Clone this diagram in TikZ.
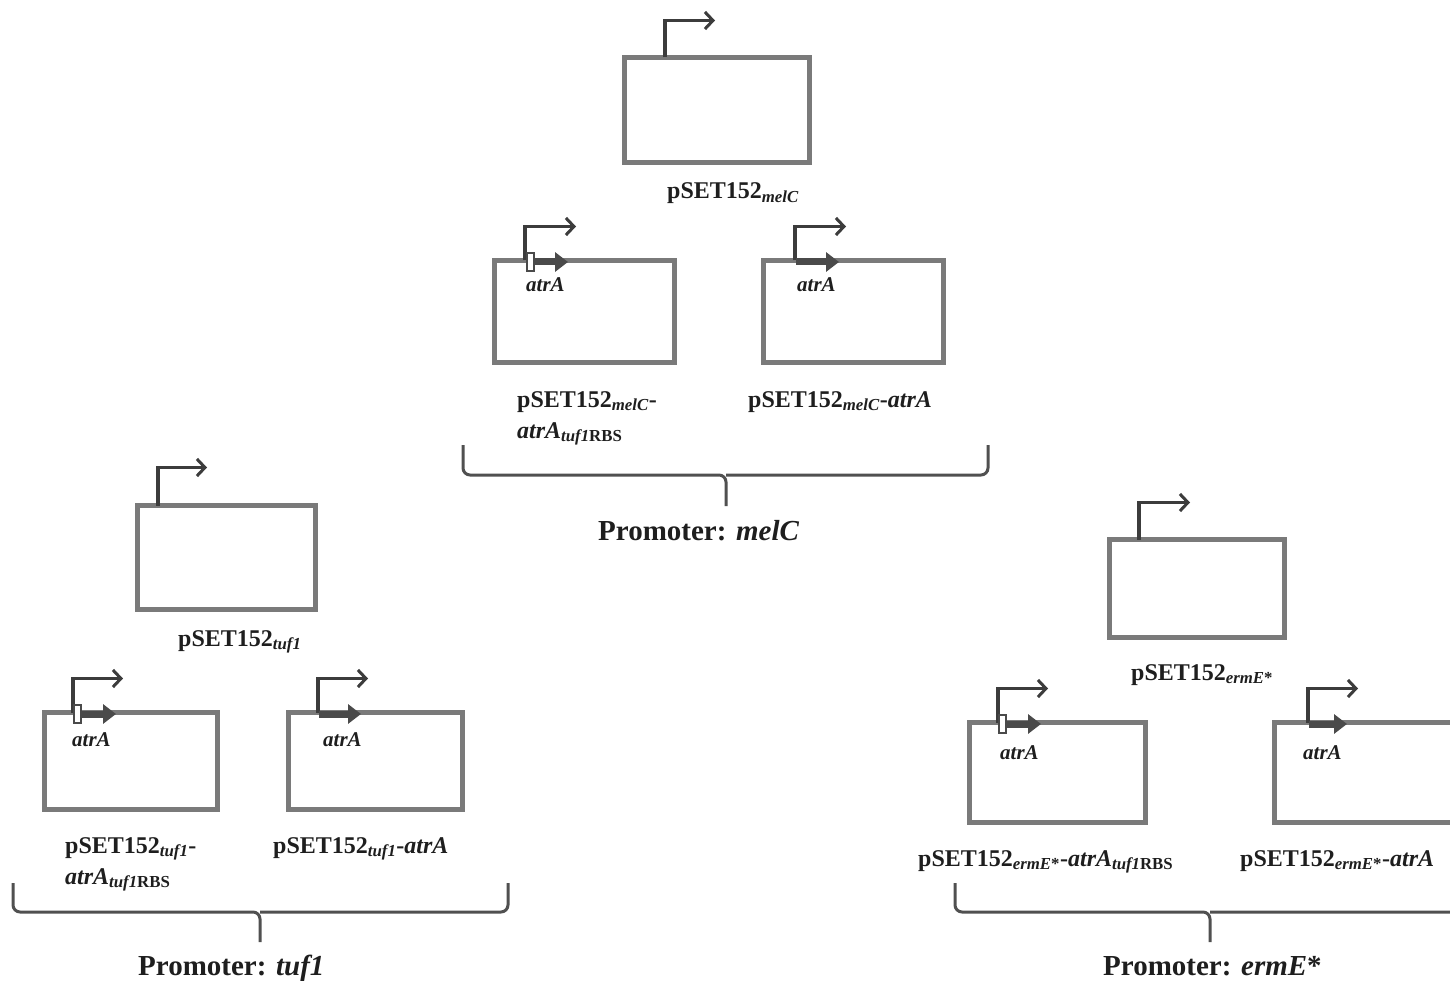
\documentclass[tikz,border=0pt]{standalone}
\usepackage{fontspec}
\setmainfont{Liberation Serif}
\usetikzlibrary{arrows.meta}
\definecolor{boxgray}{HTML}{7A7A7A}
\definecolor{promgray}{HTML}{3C3C3C}
\definecolor{genegray}{HTML}{4A4A4A}
\definecolor{bracegray}{HTML}{505050}
\definecolor{txt}{HTML}{1E1E1E}
\tikzset{
  plasmid/.style={draw=boxgray, line width=5pt, inner sep=0pt, outer sep=0pt, anchor=north west},
  prom/.style={draw=promgray, line width=3.2pt, line join=miter,
    -{Straight Barb[length=8pt,width=17pt,line width=3pt]}},
  gene/.style={draw=genegray, line width=7pt, -{Triangle[length=13pt,width=19pt]}},
  rbs/.style={draw=genegray, fill=white, line width=1.4pt, minimum width=7pt,
    minimum height=18pt, inner sep=0pt, outer sep=0pt},
  lbl/.style={text=txt, font=\fontsize{24}{30}\selectfont\bfseries, inner sep=0pt, anchor=base west},
  glbl/.style={text=txt, font=\fontsize{21}{24}\selectfont\bfseries\itshape, inner sep=0pt, anchor=base west},
  promlbl/.style={text=txt, font=\fontsize{29}{34}\selectfont\bfseries, inner sep=0pt, anchor=base west},
  bracepath/.style={draw=bracegray, line width=3pt, rounded corners=7pt}
}
\newcommand{\sbs}[1]{\textsubscript{#1}}
\begin{document}
\begin{tikzpicture}[x=1pt,y=-1pt]
\useasboundingbox (0,0) rectangle (1450,981);
\clip (0,0) rectangle (1450,981);
\fill[white] (0,0) rectangle (1450,981);

% ---------- melC group ----------
\node[plasmid, minimum width=185pt, minimum height=105pt] (m0) at (624.5,57.5) {};
\draw[prom] ([xshift=40.5pt]m0.north west) -- ++(0,-37) -- ++(50,0);
\node[lbl] (m0l) at (667,199) {pSET152\sbs{\textit{melC}}};

\node[plasmid, minimum width=180pt, minimum height=102pt] (m1) at (494.5,260.5) {};
\draw[prom] ([xshift=30.5pt]m1.north west) -- ++(0,-34) -- ++(51,0);
\coordinate (m1g) at (568,262);
\node[rbs] (m1r) at (530.5,262) {};
\draw[gene] (m1r.east) -- (m1g);
\node[rbs] at (530.5,262) {};
\node[glbl] (m1a) at (526,292) {atrA};

\node[plasmid, minimum width=180pt, minimum height=102pt] (m2) at (763.5,260.5) {};
\draw[prom] ([xshift=31.5pt]m2.north west) -- ++(0,-34) -- ++(51,0);
\coordinate (m2s) at (796,262);
\coordinate (m2g) at (839,262);
\draw[gene] (m2s) -- (m2g);
\node[glbl] (m2a) at (797,292) {atrA};

\node[lbl] (m1l) at (517,407) {pSET152\sbs{\textit{melC}}-};
\node[lbl] (m1l2) at (517,438) {\textit{atrA}\sbs{\textit{tuf1}RBS}};
\node[lbl] (m2l) at (748,407) {pSET152\sbs{\textit{melC}}-\textit{atrA}};

\draw[bracepath] (463,445) -- (463,475) -- (726,475) -- (726,506);
\draw[bracepath] (988,445) -- (988,475) -- (726,475);
\node[promlbl] (mp) at (598,540) {Promoter: \textit{melC}};

% ---------- tuf1 group ----------
\node[plasmid, minimum width=178pt, minimum height=104pt] (t0) at (137.5,505.5) {};
\draw[prom] ([xshift=20.5pt]t0.north west) -- ++(0,-38) -- ++(49,0);
\node[lbl] (t0l) at (178,646) {pSET152\sbs{\textit{tuf1}}};

\node[plasmid, minimum width=173pt, minimum height=97pt] (t1) at (44.5,712.5) {};
\draw[prom] ([xshift=28.5pt]t1.north west) -- ++(0,-34) -- ++(50,0);
\coordinate (t1g) at (116,714);
\node[rbs] (t1r) at (77.5,714) {};
\draw[gene] (t1r.east) -- (t1g);
\node[rbs] at (77.5,714) {};
\node[glbl] (t1a) at (72,746) {atrA};

\node[plasmid, minimum width=174pt, minimum height=97pt] (t2) at (288.5,712.5) {};
\draw[prom] ([xshift=29.5pt]t2.north west) -- ++(0,-34) -- ++(50,0);
\coordinate (t2s) at (319,714);
\coordinate (t2g) at (361,714);
\draw[gene] (t2s) -- (t2g);
\node[glbl] (t2a) at (323,746) {atrA};

\node[lbl] (t1l) at (65,853) {pSET152\sbs{\textit{tuf1}}-};
\node[lbl] (t1l2) at (65,884) {\textit{atrA}\sbs{\textit{tuf1}RBS}};
\node[lbl] (t2l) at (273,853) {pSET152\sbs{\textit{tuf1}}-\textit{atrA}};

\draw[bracepath] (13,883) -- (13,912) -- (260,912) -- (260,942);
\draw[bracepath] (508,883) -- (508,912) -- (260,912);
\node[promlbl] (tp) at (138,975) {Promoter: \textit{tuf1}};

% ---------- ermE* group ----------
\node[plasmid, minimum width=175pt, minimum height=98pt] (e0) at (1109.5,539.5) {};
\draw[prom] ([xshift=29.5pt]e0.north west) -- ++(0,-37) -- ++(51,0);
\node[lbl] (e0l) at (1131,680) {pSET152\sbs{\textit{ermE}*}};

\node[plasmid, minimum width=176pt, minimum height=100pt] (e1) at (969.5,722.5) {};
\draw[prom] ([xshift=28.5pt]e1.north west) -- ++(0,-34) -- ++(50,0);
\coordinate (e1g) at (1041,724);
\node[rbs] (e1r) at (1002.5,724) {};
\draw[gene] (e1r.east) -- (e1g);
\node[rbs] at (1002.5,724) {};
\node[glbl] (e1a) at (1000,759) {atrA};

\node[plasmid, minimum width=190pt, minimum height=100pt] (e2) at (1274.5,722.5) {};
\draw[prom] ([xshift=33.5pt]e2.north west) -- ++(0,-34) -- ++(50,0);
\coordinate (e2s) at (1309,724);
\coordinate (e2g) at (1347,724);
\draw[gene] (e2s) -- (e2g);
\node[glbl] (e2a) at (1303,759) {atrA};

\node[lbl] (e1l) at (918,866) {pSET152\sbs{\textit{ermE}*}-\textit{atrA}\sbs{\textit{tuf1}RBS}};
\node[lbl] (e2l) at (1240,866) {pSET152\sbs{\textit{ermE}*}-\textit{atrA}};

\draw[bracepath] (955,883) -- (955,912) -- (1210,912) -- (1210,942);
\draw[bracepath] (1475,883) -- (1475,912) -- (1210,912);
\node[promlbl] (ep) at (1103,975) {Promoter: \textit{ermE}*};
\end{tikzpicture}
\end{document}
